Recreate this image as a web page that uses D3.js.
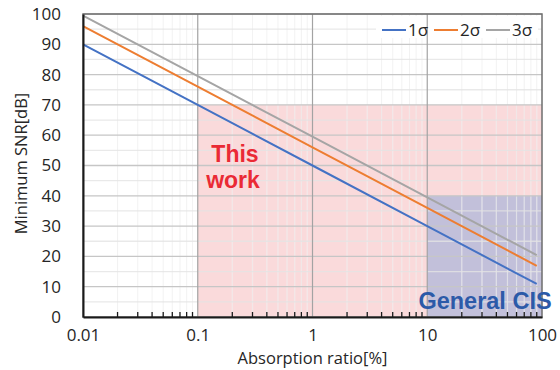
<!DOCTYPE html>
<html>
<head>
<meta charset="utf-8">
<script src="https://cdn.jsdelivr.net/npm/d3@7"></script>
<style>
  body { margin: 0; background: #fff; }
  text { font-family: "Open Sans", "Noto Sans", sans-serif; fill: #262626; }
</style>
</head>
<body>
<div class="chart"></div>
<script>
// chart values
var ratios = [0.01, 0.1, 1, 10, 90];
var sigma1 = [90, 70, 50, 30, 10.9];
var sigma2 = [96, 76, 56, 36, 16.9];
var sigma3 = [99.5, 79.5, 59.5, 39.5, 20.4];
var seriesNames = ["1σ", "2σ", "3σ"];
var xTicks = [0.01, 0.1, 1, 10, 100];
var yTicks = [0, 10, 20, 30, 40, 50, 60, 70, 80, 90, 100];
// shaded regions: [x0, x1, yTop]
var thisWork = [0.1, 100, 70];
var generalCIS = [10, 100, 40];

var colors = ["#4472c4", "#ed7d31", "#a5a5a5"];

var margins = { top: 14, right: 18, bottom: 53, left: 83 };
var width = 560 - margins.left - margins.right;
var height = 370 - margins.top - margins.bottom;

var x = d3.scaleLog().domain([0.01, 100]).range([0, width]);
var y = d3.scaleLinear().domain([0, 100]).range([height, 0]);

var svg = d3.select(".chart").append("svg")
    .attr("width", 560)
    .attr("height", 370)
    .append("g")
    .attr("transform", "translate(" + margins.left + "," + margins.top + ")");

// shaded areas
svg.append("rect")
    .attr("x", x(thisWork[0]))
    .attr("width", x(thisWork[1]) - x(thisWork[0]))
    .attr("y", y(thisWork[2]))
    .attr("height", height - y(thisWork[2]))
    .attr("fill", "#fadadb");
svg.append("rect")
    .attr("x", x(generalCIS[0]))
    .attr("width", x(generalCIS[1]) - x(generalCIS[0]))
    .attr("y", y(generalCIS[2]))
    .attr("height", height - y(generalCIS[2]))
    .attr("fill", "#c2c0da");

// minor gridlines
var minorX = [];
xTicks.slice(0, -1).forEach(function (d) {
    for (var k = 2; k <= 9; k++) minorX.push(d * k);
});
var minorY = d3.range(5, 100, 10);

svg.append("g").selectAll("line")
    .data(minorX)
    .enter().append("line")
    .attr("x1", function (d) { return x(d); })
    .attr("x2", function (d) { return x(d); })
    .attr("y1", 0).attr("y2", height)
    .attr("stroke", "#ffffff")
    .attr("stroke-opacity", 0.55)
    .attr("stroke-width", 1.2);
svg.append("g").selectAll("line")
    .data(minorX)
    .enter().append("line")
    .attr("x1", function (d) { return x(d); })
    .attr("x2", function (d) { return x(d); })
    .attr("y1", 0).attr("y2", height)
    .attr("stroke", "#d9d9d9")
    .attr("stroke-opacity", 0.35)
    .attr("stroke-width", 1);

svg.append("g").selectAll("line")
    .data(minorY)
    .enter().append("line")
    .attr("x1", 0).attr("x2", width)
    .attr("y1", function (d) { return y(d); })
    .attr("y2", function (d) { return y(d); })
    .attr("stroke", "#e3e3e3")
    .attr("stroke-opacity", 0.8)
    .attr("stroke-width", 1.3);

// legend background
svg.append("rect")
    .attr("x", 293).attr("y", 2)
    .attr("width", 162).attr("height", 22)
    .attr("fill", "#fff");

// major gridlines
svg.append("g").selectAll("line")
    .data(yTicks.slice(1))
    .enter().append("line")
    .attr("x1", 0).attr("x2", width)
    .attr("y1", function (d) { return y(d); })
    .attr("y2", function (d) { return y(d); })
    .attr("stroke", "#c6c6c6")
    .attr("stroke-width", 1.3);
svg.append("g").selectAll("line")
    .data(xTicks.slice(1, -1))
    .enter().append("line")
    .attr("x1", function (d) { return x(d); })
    .attr("x2", function (d) { return x(d); })
    .attr("y1", 0).attr("y2", height)
    .attr("stroke", "#a3a3a3")
    .attr("stroke-width", 1.2);

// plot border
svg.append("rect")
    .attr("x", 0).attr("y", 0)
    .attr("width", width).attr("height", height)
    .attr("fill", "none")
    .attr("stroke", "#6e6e6e")
    .attr("stroke-width", 1.5);

// lines
var allSeries = [sigma1, sigma2, sigma3];
var line = d3.line()
    .x(function (d, i) { return x(ratios[i]); })
    .y(function (d) { return y(d); });

svg.selectAll(".series")
    .data(allSeries)
    .enter().append("path")
    .attr("class", "series")
    .attr("d", line)
    .attr("fill", "none")
    .attr("stroke", function (d, i) { return colors[i]; })
    .attr("stroke-width", 2);

// y axis
var yAxis = svg.append("g")
    .call(d3.axisLeft(y).tickValues(yTicks).tickSize(0).tickPadding(22));
yAxis.select(".domain").attr("stroke", "#1a1a1a").attr("stroke-width", 2);
yAxis.selectAll("text")
    .style("font-size", "17px")
    .style("font-family", "'Open Sans', sans-serif")
    .attr("fill", "#262626");

// x axis
var xAxis = svg.append("g")
    .attr("transform", "translate(0," + height + ")")
    .call(d3.axisBottom(x).tickValues(xTicks).tickSize(0).tickPadding(12)
        .tickFormat(function (d) { return String(d); }));
xAxis.select(".domain").attr("stroke", "#1a1a1a").attr("stroke-width", 2);
xAxis.selectAll("text")
    .style("font-size", "17px")
    .style("font-family", "'Open Sans', sans-serif")
    .attr("fill", "#262626");

// minor ticks on the inside of the bottom axis
svg.append("g").selectAll("line")
    .data(minorX)
    .enter().append("line")
    .attr("x1", function (d) { return x(d); })
    .attr("x2", function (d) { return x(d); })
    .attr("y1", height).attr("y2", height - 5)
    .attr("stroke", "#1a1a1a")
    .attr("stroke-width", 1.3);

// axis titles
svg.append("text")
    .attr("x", x(1))
    .attr("y", height + 47)
    .attr("text-anchor", "middle")
    .style("font-size", "16.5px")
    .text("Absorption ratio[%]");

svg.append("text")
    .attr("transform", "translate(" + (-56) + "," + (height / 2 - 2) + ") rotate(-90)")
    .attr("text-anchor", "middle")
    .style("font-size", "16.5px")
    .text("Minimum SNR[dB]");

// annotations
svg.append("text")
    .attr("x", 152)
    .attr("y", 148)
    .attr("text-anchor", "middle")
    .style("font-family", "'Liberation Sans', Arial, sans-serif")
    .style("font-weight", "bold")
    .style("font-size", "23px")
    .style("fill", "#ea2a35")
    .text("This");
svg.append("text")
    .attr("x", 150)
    .attr("y", 174)
    .attr("text-anchor", "middle")
    .style("font-family", "'Liberation Sans', Arial, sans-serif")
    .style("font-weight", "bold")
    .style("font-size", "23px")
    .style("fill", "#ea2a35")
    .text("work");
svg.append("text")
    .attr("x", 402)
    .attr("y", 295)
    .attr("text-anchor", "middle")
    .style("font-family", "'Liberation Sans', Arial, sans-serif")
    .style("font-weight", "bold")
    .style("font-size", "23.5px")
    .style("fill", "#2c5aa8")
    .text("General CIS");

// legend
var legend = svg.append("g").attr("transform", "translate(299,16)");
var items = legend.selectAll(".item")
    .data(seriesNames)
    .enter().append("g")
    .attr("class", "item")
    .attr("transform", function (d, i) { return "translate(" + (i * 52) + ",0)"; });
items.append("line")
    .attr("x1", 0).attr("x2", 24)
    .attr("y1", 0).attr("y2", 0)
    .attr("stroke", function (d, i) { return colors[i]; })
    .attr("stroke-width", 2);
items.append("text")
    .attr("x", 26)
    .attr("y", 6)
    .style("font-size", "17px")
    .text(function (d) { return d; });
</script>
</body>
</html>
